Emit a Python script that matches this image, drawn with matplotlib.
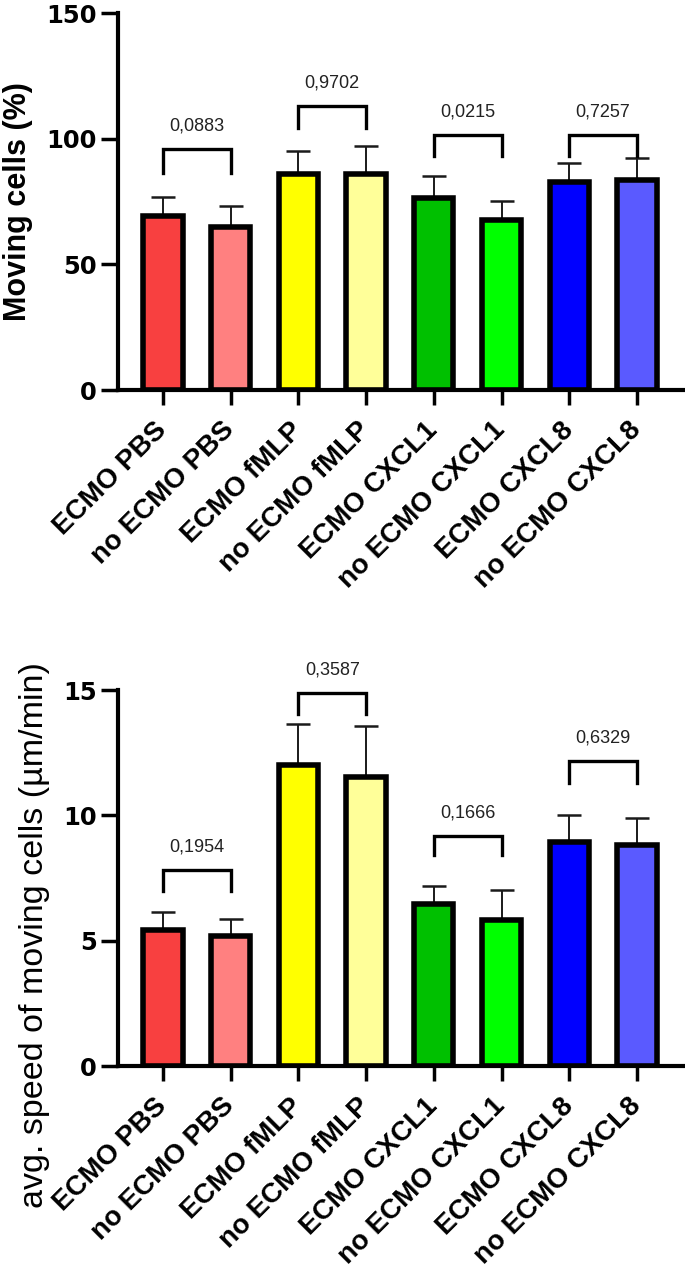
import numpy as np
import matplotlib
matplotlib.use("Agg")
import matplotlib.pyplot as plt

# groups and colours
labels = ["ECMO PBS", "no ECMO PBS", "ECMO fMLP", "no ECMO fMLP",
          "ECMO CXCL1", "no ECMO CXCL1", "ECMO CXCL8", "no ECMO CXCL8"]
colors = ["#F84040", "#FF8080", "#FFFF00", "#FFFF99",
          "#00C000", "#00FF00", "#0000FF", "#5A5AFF"]

# moving cells (%)
moving_mean = [69.3, 64.8, 85.8, 86.0, 76.4, 67.6, 82.6, 83.4]
moving_err = [7.4, 8.3, 9.3, 11.1, 8.7, 7.8, 7.7, 8.9]
moving_p = ["0,0883", "0,9702", "0,0215", "0,7257"]
moving_brk_top = [95.9, 113.0, 101.5, 101.5]
moving_brk_leg = [9.6, 8.7, 8.3, 8.3]

# avg. speed of moving cells (um/min)
speed_mean = [5.44, 5.19, 12.0, 11.54, 6.45, 5.84, 8.95, 8.82]
speed_err = [0.69, 0.66, 1.63, 2.01, 0.73, 1.17, 1.05, 1.09]
speed_p = ["0,1954", "0,3587", "0,1666", "0,6329"]
speed_brk_top = [7.82, 14.87, 9.18, 12.18]
speed_brk_leg = [0.82, 0.83, 0.76, 0.88]


def draw_panel(ax, means, errs, pvals, brk_top, brk_leg, ymax, yticks,
               ylabel, ylabel_kw, label_xy):
    x = np.arange(len(labels))
    ax.errorbar(x, means, yerr=[np.zeros(len(errs)), errs], fmt="none",
                ecolor="#1a1a1a", elinewidth=1.4, capsize=8.6, capthick=1.8,
                zorder=1)
    ax.bar(x, means, width=0.58, color=colors, edgecolor="black",
           linewidth=4, zorder=2)

    # significance brackets between each pair
    for i, p in enumerate(pvals):
        x0, x1 = 2 * i, 2 * i + 1
        top = brk_top[i]
        low = top - brk_leg[i]
        ax.plot([x0, x0, x1, x1], [low, top, top, low], color="black",
                lw=2.4, clip_on=False, solid_joinstyle="miter")
        ax.annotate(p, xy=((x0 + x1) / 2, top), xytext=(0, 16.5),
                    textcoords="offset points", ha="center", va="center",
                    fontsize=13, family="Liberation Sans", color="#222222",
                    annotation_clip=False)

    ax.set_xlim(-0.67, 7.68)
    ax.set_ylim(0, ymax)
    ax.set_yticks(yticks, labels=[str(v) for v in yticks], fontsize=17.5,
                  fontweight="bold", family="DejaVu Sans")
    ax.set_xticks(x, labels=labels, rotation=45, ha="right", va="center",
                  rotation_mode="anchor", fontsize=20,
                  fontweight="bold", family="Liberation Sans")
    ax.tick_params(axis="y", length=12, width=2.5, pad=3)
    ax.tick_params(axis="x", length=11, width=2.5, pad=15)
    for side in ["top", "right"]:
        ax.spines[side].set_visible(False)
    for side in ["left", "bottom"]:
        ax.spines[side].set_linewidth(3)
    ax.set_ylabel(ylabel, family="Liberation Sans", **ylabel_kw)
    ax.yaxis.set_label_coords(*label_xy)


fig = plt.figure(figsize=(6.85, 12.75), dpi=100)
ax1 = fig.add_axes([0.1718, 0.6941, 0.8252, 0.2957])
ax2 = fig.add_axes([0.1718, 0.1639, 0.8252, 0.2949])

draw_panel(ax1, moving_mean, moving_err, moving_p, moving_brk_top,
           moving_brk_leg, 150, [0, 50, 100, 150], "Moving cells (%)",
           dict(fontsize=22, fontweight="bold"), (-0.150, 0.50))
draw_panel(ax2, speed_mean, speed_err, speed_p, speed_brk_top,
           speed_brk_leg, 15, [0, 5, 10, 15],
           "avg. speed of moving cells (µm/min)",
           dict(fontsize=24.5), (-0.120, 0.348))

fig.savefig("out.png", dpi=100)
